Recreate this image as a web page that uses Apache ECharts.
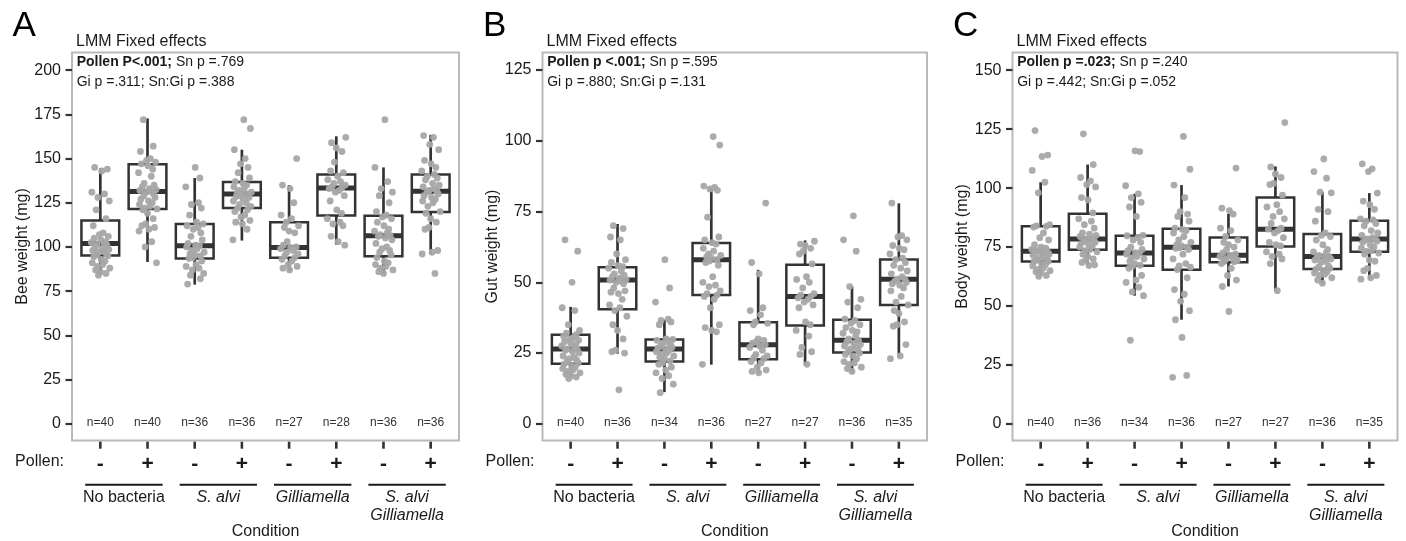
<!DOCTYPE html>
<html><head><meta charset="utf-8">
<script src="https://cdn.jsdelivr.net/npm/echarts@6/dist/echarts.min.js"></script>
<style>html,body{margin:0;padding:0;background:#fff}#c{width:1406px;height:541px}</style>
</head><body><div id="c"></div><script>
// ---------- data ----------
const pollenLabels = ['-', '+', '-', '+', '-', '+', '-', '+'];
const groupLabels = [['No bacteria'], ['S. alvi'], ['Gilliamella'], ['S. alvi', 'Gilliamella']];
const groupItalic = [false, true, true, true];
const groupCenters = [0.5, 2.5, 4.5, 6.5];
const xTitle = 'Condition';

const yTicksBee = [0, 25, 50, 75, 100, 125, 150, 175, 200];
const yTicksGut = [0, 25, 50, 75, 100, 125];
const yTicksBody = [0, 25, 50, 75, 100, 125, 150];

const nBee = [40, 40, 36, 36, 27, 28, 36, 36];
const nGut = [40, 36, 34, 36, 27, 27, 36, 35];
const nBody = [40, 36, 34, 36, 27, 27, 36, 35];

// box stats: [lower whisker, Q1, median, Q3, upper whisker]
const beeBoxes = [[84, 95.2, 102, 114.9, 144.5], [91.5, 121.5, 131.3, 146.8, 172.7], [78.7, 93.5, 100.7, 113, 139], [103.6, 122, 130, 136.7, 155],
  [86.5, 93.9, 99.7, 114, 135], [101.3, 117.8, 133.4, 141, 162.6], [84.7, 94.8, 106.3, 117.6, 145], [95.8, 119.8, 131.5, 141, 163.4]];
const gutBoxes = [[15.8, 21.2, 26.4, 31.5, 41.3], [24.8, 40.5, 50.8, 55.3, 70.6], [11.2, 22, 26.4, 29.8, 36.8], [20.9, 45.5, 58, 63.9, 83.3],
  [17.9, 22.8, 27.9, 35.9, 54.4], [20.9, 34.7, 45, 56.2, 64.8], [18.5, 25.2, 29.5, 36.8, 48.6], [23.7, 42, 51.1, 58.1, 77.9]];
const bodyBoxes = [[62.6, 68.9, 73.2, 83.8, 102.5], [67.2, 73.9, 78.4, 89.1, 110], [54.4, 67.1, 72.5, 79.8, 97.6], [44.2, 65.4, 74.9, 82.8, 101.3],
  [58.3, 68.6, 71.5, 79.1, 89.1], [56.4, 75.3, 82.6, 96, 109.2], [59.7, 65.7, 71, 80.5, 98.3], [61.4, 73, 78.4, 86.2, 97.9]];

// individual bees
const beeWeight = [
  [145, 144, 143, 131, 130, 128, 126, 121, 116, 112, 108, 107, 106, 105, 104, 103, 102.5, 102, 101.5, 101, 100, 99, 98.5, 98, 97.5, 97, 96, 95.5, 95, 94.5, 93, 92, 91, 90, 89, 88, 87, 86, 85, 84],
  [172, 157, 154, 150, 149, 148, 147, 146, 144, 142, 140, 136, 135, 134, 133, 132.5, 132, 131.5, 131, 130, 129, 128, 127, 126, 125, 124, 123, 122, 121.5, 121, 119, 116, 113, 112, 111, 110, 109, 103, 100, 91],
  [145, 139, 134, 125, 124, 122, 118, 114, 113, 112, 111, 110, 108, 106, 104, 102, 101, 100.7, 100, 99, 98, 97, 96, 95.5, 95, 94, 93.5, 92, 90, 89, 88, 87, 85, 84, 82, 79],
  [172, 167, 155, 150, 147, 145, 142, 139, 137, 136, 135, 134, 133, 132, 131, 130.5, 130, 129.5, 129, 128.5, 128, 127, 126, 125, 124, 123, 122, 121, 120, 118, 117, 115, 114, 113, 110, 104],
  [150, 135, 133, 125, 118, 116, 114, 112, 111, 109, 108, 103, 101, 100, 99.7, 99, 98, 97, 96, 95, 94, 93, 92, 90, 89, 88, 87],
  [162, 159, 156, 154, 148, 143, 142, 140, 138, 137, 136, 135, 134, 133.5, 133, 132, 131, 129, 126, 121, 119, 116, 114, 113, 112, 106, 103, 101],
  [172, 145, 137, 133, 131, 129, 125, 120, 118, 117, 116, 114, 112, 110, 109, 108, 107, 106.5, 106, 105, 104, 102, 100, 99, 98, 97, 95.5, 94, 92, 91, 90, 89, 88, 87, 86, 85],
  [163, 162, 158, 155, 149, 147, 145, 143, 141, 140, 139, 138, 136, 135, 134, 133, 132, 131.5, 131, 130, 129, 128, 127, 126, 125, 123, 120, 119, 116, 114, 111, 110, 98, 97, 96, 85]
];
const gutWeight = [
  [65, 61, 50, 41, 40, 35, 33, 32, 31.5, 31, 30.5, 30, 29.5, 29, 28.5, 28, 27.5, 27, 26.5, 26.3, 26, 25.5, 25, 24, 23.5, 23, 22.5, 22, 21.5, 21, 20.5, 20, 19.5, 19, 18.5, 18, 17.5, 17, 16.5, 16],
  [70, 69, 66, 65, 60, 58, 57, 56, 55.5, 55, 54, 53, 52.5, 52, 51.5, 51, 50.8, 50.5, 50, 49.5, 48, 47, 46.5, 46, 44, 42, 41, 40, 38, 35, 33, 30, 26, 25.5, 25, 12],
  [58, 48, 43, 37, 36.5, 36, 35, 30, 29.8, 29.5, 29, 28.5, 28, 27.5, 27, 26.7, 26.4, 26, 25.5, 25, 24.5, 24, 23.5, 23, 22.2, 21.5, 21, 20, 19, 18, 17, 16, 14, 11],
  [101.5, 98.5, 84, 83.5, 83, 82.5, 73, 66, 65, 64, 63.5, 62, 61, 60, 59.5, 59, 58.5, 58, 57.5, 57, 56, 52, 50, 49, 48.5, 47, 46, 45.5, 45, 44, 41, 35, 34, 33, 32.5, 21],
  [78, 57, 53, 41, 40, 38.5, 36, 35.5, 35, 30, 29.5, 29, 28.5, 28, 27.5, 27, 26, 24.5, 24, 23.5, 23, 22, 21.5, 20, 19, 18.5, 18],
  [64.5, 63.5, 63, 62, 61, 60, 56.5, 52, 51, 50, 48, 46, 45.5, 45, 44.5, 44, 43, 42, 41, 36, 35, 33, 31, 27, 25.5, 24.5, 21],
  [73.5, 65, 61, 48.5, 44, 43, 41, 37, 36.5, 35.5, 35, 34, 33, 32.5, 32, 31, 30, 29.5, 29, 28.5, 28, 27.5, 27, 26.5, 26, 25.5, 25, 24.5, 24, 23, 22, 21.5, 21, 20, 19.5, 18.5],
  [78, 66.5, 66, 65, 63, 62, 61.5, 60, 58.5, 58, 57, 56, 55, 54, 53, 52, 51.1, 51, 50.5, 50, 49.5, 49, 48, 47, 45, 43, 42, 40, 39, 36, 35, 34.5, 28, 24, 23]
];
const bodyWeight = [
  [124.4, 114, 113.4, 107.5, 102.5, 98, 84.5, 84, 83.8, 83.5, 81, 79, 78, 76, 75, 74.5, 74, 73.8, 73.5, 73.2, 73, 72.5, 72, 71.5, 71, 70.5, 70, 69.5, 69, 68.9, 68, 67.5, 67, 66, 65.5, 65, 64.5, 64, 63, 62.6],
  [123, 110, 104.5, 103, 101.5, 100.5, 96, 95, 89.5, 87, 86, 84.5, 83, 81, 80.5, 80, 79.5, 78.5, 78.3, 78, 77.5, 77, 76.5, 76, 75.5, 75, 74, 73.5, 73, 72, 71, 70, 69.5, 68.5, 67.5, 67.2],
  [115.8, 115.5, 101, 97.6, 96, 94, 92, 88, 80, 79.8, 79, 78, 77, 75, 74, 73.5, 72.6, 72.4, 72, 71, 70.5, 70, 69, 68, 67.3, 67, 66, 63, 61, 60, 58, 56, 54.4, 35.5],
  [121.9, 108, 101.3, 96, 90, 89, 88, 86, 83, 82.5, 82, 81, 79.5, 78, 77, 76, 75.5, 75, 74.8, 74.5, 74, 72, 70, 68, 67, 66.5, 65.5, 62, 57, 55, 52, 48, 44.2, 36.7, 20.6, 19.8],
  [108.5, 91.5, 90.5, 89, 83, 82, 79.5, 78, 77, 76, 75, 74, 72.5, 72, 71.5, 71, 70.5, 70, 69.5, 69, 68.8, 68, 66, 63, 61, 58.3, 47.7],
  [127.8, 109, 106, 104.5, 102, 101.5, 97, 93, 92, 90, 88, 87, 85, 83, 82.6, 82, 81, 79, 77, 76, 75.5, 73, 72, 71, 70, 68, 56.5],
  [112.4, 107, 104.2, 98.3, 98, 91, 90, 86, 81, 80, 79.5, 78, 76, 74, 73, 72.5, 71.5, 71, 70.8, 70.5, 70, 69.5, 69, 68.5, 67, 66.5, 66, 65.5, 65, 64.5, 64, 63.5, 63, 62, 61, 59.7],
  [110.3, 108.2, 107, 97.9, 94.5, 93, 91, 87, 86.5, 86, 85, 84, 82, 81, 80, 79, 78.5, 78.3, 78, 77.5, 77, 76, 75, 74.5, 73.5, 73.2, 72.5, 72, 69.5, 69, 66, 65, 63, 62, 61.4]
];

// fixed horizontal jitter pattern (display offsets, in category units)
const JITTER = [-0.12, 0.15, 0.03, -0.18, 0.09, -0.05, 0.19, -0.09, 0.12, -0.15, 0.06, -0.02, 0.17, -0.13, 0.01, 0.11, -0.19, 0.08, -0.07, 0.14,
  -0.11, 0.04, 0.18, -0.16, 0.07, -0.03, 0.13, -0.08, 0.16, -0.14, 0.02, 0.10, -0.17, 0.05, -0.06, 0.20, -0.10, 0.00, 0.12, -0.04];

// ---------- layout / styles ----------
const FONT = "'Liberation Sans', Arial, Helvetica, sans-serif";
const NARROW = "'Liberation Sans Narrow', 'Arial Narrow', 'Liberation Sans', sans-serif";
const INK = '#1a1a1a';
const BOXC = '#333333';

const panels = [
  { letter: 'A', left: 72, width: 387, yMin: -9.5, yMax: 210, ticks: yTicksBee, yName: 'Bee weight (mg)', boxes: beeBoxes, pts: beeWeight, n: nBee,
    s1b: 'Pollen P<.001;', s1: ' Sn p =.769', s2: 'Gi p =.311; Sn:Gi p =.388' },
  { letter: 'B', left: 542.5, width: 384.5, yMin: -5.9, yMax: 131.2, ticks: yTicksGut, yName: 'Gut weight (mg)', boxes: gutBoxes, pts: gutWeight, n: nGut,
    s1b: 'Pollen p <.001;', s1: ' Sn p =.595', s2: 'Gi p =.880; Sn:Gi p =.131' },
  { letter: 'C', left: 1012.5, width: 385, yMin: -7, yMax: 157.5, ticks: yTicksBody, yName: 'Body weight (mg)', boxes: bodyBoxes, pts: bodyWeight, n: nBody,
    s1b: 'Pollen p =.023;', s1: ' Sn p =.240', s2: 'Gi p =.442; Sn:Gi p =.052' }
];
const TOP = 52.5, HEIGHT = 388;

function boxRender(params, api) {
  const x = api.value(0);
  const lo = api.value(1), q1 = api.value(2), md = api.value(3), q3 = api.value(4), hi = api.value(5);
  const half = 0.4;
  const c = v => api.coord([x, v]);
  const tl = api.coord([x - half, q3]);
  const br = api.coord([x + half, q1]);
  const ml = api.coord([x - half, md]);
  const mr = api.coord([x + half, md]);
  const ln = (a, b, w) => ({ type: 'line', shape: { x1: a[0], y1: a[1], x2: b[0], y2: b[1] }, style: { stroke: BOXC, lineWidth: w } });
  return { type: 'group', children: [
    ln(c(lo), c(q1), 2.7),
    ln(c(q3), c(hi), 2.7),
    { type: 'rect', shape: { x: tl[0], y: tl[1], width: br[0] - tl[0], height: br[1] - tl[1] }, style: { fill: 'none', stroke: BOXC, lineWidth: 2.5 } },
    ln(ml, mr, 5)
  ]};
}
function nRender(params, api) {
  const p = api.coord([api.value(0), api.value(1)]);
  return { type: 'text', style: { text: 'n=' + api.value(2), x: p[0], y: p[1] - 1.5, align: 'center', verticalAlign: 'middle',
    fontSize: 12, fontFamily: NARROW, fill: '#333' } };
}
function groupRender(params, api) {
  const cs = params.coordSys;
  const bottom = cs.y + cs.height;
  const cx = api.value(0);
  const gi = api.value(2);
  const l = api.coord([cx - 0.82, 0])[0];
  const r = api.coord([cx + 0.82, 0])[0];
  const m = api.coord([cx, 0])[0];
  const children = [{ type: 'line', shape: { x1: l, y1: bottom + 44.3, x2: r, y2: bottom + 44.3 }, style: { stroke: INK, lineWidth: 2 } }];
  groupLabels[gi].forEach((t, li) => children.push({ type: 'text', style: { text: t, x: m, y: bottom + 56.6 + li * 18,
    align: 'center', verticalAlign: 'middle', fontSize: 16, fontFamily: FONT, fontStyle: groupItalic[gi] ? 'italic' : 'normal', fill: INK } }));
  if (gi === 0) {
    children.push({ type: 'text', style: { text: xTitle, x: cs.x + cs.width / 2, y: bottom + 91.5, align: 'center', verticalAlign: 'middle',
      fontSize: 16, fontFamily: FONT, fill: INK } });
  }
  return { type: 'group', children };
}

const grid = [], xAxis = [], yAxis = [], series = [], graphic = [];
panels.forEach((p, k) => {
  grid.push({ left: p.left, top: TOP, width: p.width, height: HEIGHT, show: true, borderColor: '#b9b9b9', borderWidth: 2, backgroundColor: 'transparent' });
  xAxis.push({ type: 'value', gridIndex: k, min: -0.6, max: 7.6, position: 'bottom',
    axisLine: { show: false, onZero: false }, splitLine: { show: false },
    axisTick: { show: false },
    axisLabel: { show: true, margin: 13, customValues: [0, 1, 2, 3, 4, 5, 6, 7], formatter: v => pollenLabels[Math.round(v)],
      fontSize: 21, fontWeight: 'bold', fontFamily: FONT, color: INK } });
  yAxis.push({ type: 'value', gridIndex: k, min: p.yMin, max: p.yMax, position: 'left',
    axisLine: { show: false, onZero: false }, splitLine: { show: false },
    axisTick: { show: true, length: 6.5, lineStyle: { color: BOXC, width: 2.2 }, customValues: p.ticks },
    axisLabel: { show: true, margin: 11, customValues: p.ticks, fontSize: 16, fontFamily: FONT, color: INK },
    name: p.yName, nameLocation: 'middle', nameRotate: 90, nameGap: 38, nameTextStyle: { fontSize: 16, fontFamily: FONT, color: INK } });
  series.push({ type: 'custom', xAxisIndex: k, yAxisIndex: k, z: 2, silent: true, renderItem: boxRender,
    encode: { x: 0, y: [1, 2, 3, 4, 5] }, data: p.boxes.map((b, i) => [i].concat(b)) });
  const pts = [];
  p.pts.forEach((arr, i) => arr.forEach((v, j) => pts.push([i + JITTER[(j + i * 7) % JITTER.length], v])));
  series.push({ type: 'scatter', xAxisIndex: k, yAxisIndex: k, z: 3, silent: true, symbolSize: 6.8,
    itemStyle: { color: '#a6a6a6', opacity: 0.95 }, data: pts });
  series.push({ type: 'custom', xAxisIndex: k, yAxisIndex: k, z: 4, silent: true, renderItem: nRender,
    encode: { x: 0, y: 1 }, data: p.n.map((v, i) => [i, 0, v]) });
  series.push({ type: 'custom', xAxisIndex: k, yAxisIndex: k, z: 4, silent: true, clip: false, renderItem: groupRender,
    encode: { x: 0, y: 1 }, data: groupCenters.map((c, i) => [c, 0, i]) });
  graphic.push({ type: 'text', x: p.left - 59.5, y: 26, style: { text: p.letter, fontSize: 35, fontFamily: FONT, fill: '#000', verticalAlign: 'middle' } });
  graphic.push({ type: 'text', x: p.left + 4, y: 42, style: { text: 'LMM Fixed effects', fontSize: 16, fontFamily: FONT, fill: INK, verticalAlign: 'middle' } });
  graphic.push({ type: 'text', x: p.left + 4.7, y: 61.7, style: { text: '{b|' + p.s1b + '}' + p.s1, fontSize: 14, fontFamily: FONT, fill: INK, verticalAlign: 'middle',
    rich: { b: { fontWeight: 'bold', fontSize: 14, fontFamily: FONT, fill: INK } } } });
  graphic.push({ type: 'text', x: p.left + 4.7, y: 81.7, style: { text: p.s2, fontSize: 14, fontFamily: FONT, fill: INK, verticalAlign: 'middle' } });
  graphic.push({ type: 'text', x: p.left - 8, y: 461.7, style: { text: 'Pollen:', fontSize: 16, fontFamily: FONT, fill: INK, align: 'right', verticalAlign: 'middle' } });
});

const chart = echarts.init(document.getElementById('c'), null, { renderer: 'canvas', width: 1406, height: 541 });
chart.setOption({ animation: false, backgroundColor: '#fff', grid, xAxis, yAxis, series, graphic });

// category tick marks below each panel, placed through the axes' own scales
const tickEls = [];
panels.forEach((p, k) => {
  pollenLabels.forEach((lab, i) => {
    const pt = chart.convertToPixel({ gridIndex: k }, [i, p.yMin]);
    if (pt && isFinite(pt[0]) && isFinite(pt[1])) {
      tickEls.push({ type: 'rect', z: 100, silent: true, shape: { x: pt[0] - 1.3, y: pt[1] + 1.2, width: 2.6, height: 7 }, style: { fill: BOXC } });
    }
  });
});
chart.setOption({ graphic: graphic.concat(tickEls) });
</script></body></html>
